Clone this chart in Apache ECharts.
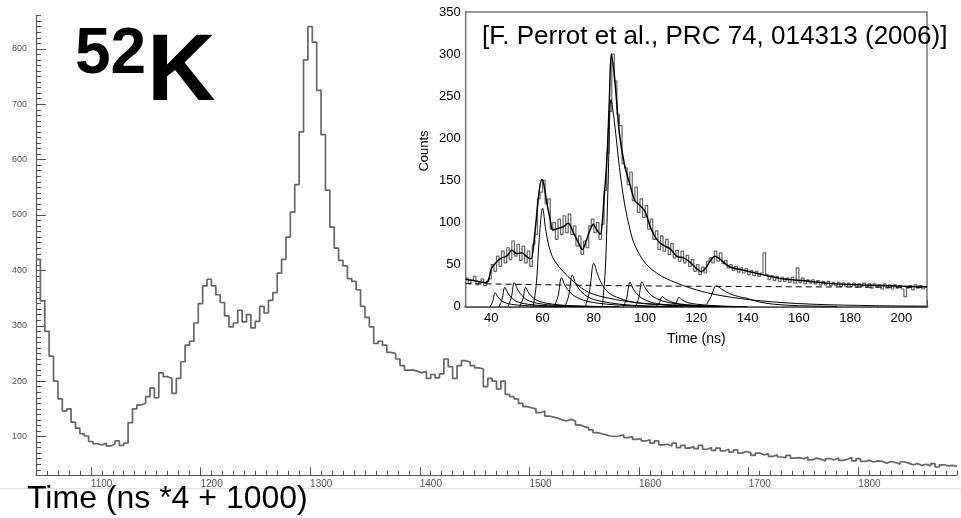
<!DOCTYPE html>
<html><head><meta charset="utf-8">
<script src="https://cdn.jsdelivr.net/npm/echarts@6/dist/echarts.min.js"></script>
<style>html,body{margin:0;padding:0;background:#fff}#c{width:961px;height:518px}</style>
</head><body><div id="c"></div>
<script>
// ---------- main histogram (52K) ----------
const mainBinStart = 1050;
const mainBinWidth = 4;
const mainCounts = [
420,345,290,245,200,168,146,150,126,115,
105,101,91,87,85,88,83,86,92,84,
88,125,150,157,160,172,188,170,215,208,
205,178,205,235,265,272,305,340,372,384,
372,356,342,318,298,305,328,307,320,296,
308,335,323,346,360,395,420,460,505,555,
650,780,840,812,725,645,545,478,440,418,
408,385,380,365,335,315,298,268,272,265,
252,250,240,228,220,220,218,215,218,205,
212,206,213,240,226,205,228,237,234,228,
224,222,190,205,200,186,200,176,172,168,
160,154,152,150,143,146,137,135,133,130,
128,131,128,121,118,116,112,107,105,103,
101,100,101,103,98,100,95,96,92,94,
88,92,85,86,83,88,80,84,79,82,
78,84,77,80,75,79,74,77,72,76,
70,73,71,66,70,67,69,64,67,63,
62,66,61,62,60,63,58,61,59,56,
60,58,61,57,59,62,56,60,55,57,
54,56,55,52,55,53,50,54,52,49,
51,48,50,47,51,45,49,47,48,46
];
const mainXTickLabels = [1100,1200,1300,1400,1500,1600,1700,1800];
const mainYTickLabels = [100,200,300,400,500,600,700,800];

// ---------- inset (Perrot et al.) ----------
const insetBinStart = 30;
const insetBinWidth = 1;
const insetCounts = [
34,27,31,36,26,30,33,25,30,33,
50,42,60,48,66,52,70,56,78,60,
74,55,72,52,66,48,74,86,128,136,
150,122,128,92,100,80,104,86,108,88,
110,86,96,72,84,62,78,70,96,104,
88,100,80,98,138,182,232,300,268,228,
215,170,165,145,160,126,142,112,128,106,
120,92,104,80,90,68,84,66,80,62,
75,58,67,54,66,52,61,48,56,42,
50,38,47,40,54,58,52,66,54,64,
51,55,46,50,43,48,41,46,40,45,
38,43,37,42,36,40,64,38,32,37,
31,36,30,35,30,34,29,35,28,46,
29,34,27,32,28,32,27,31,26,30,
26,30,25,29,25,29,24,28,24,28,
24,28,23,27,24,28,23,27,22,27,
23,26,21,27,22,26,21,26,22,25,
21,12,22,25,20,26,22,25,21,24
];
const fitTotal = [[30,32.5],[34,30.5],[38,28.5],[39,33],[40,45],[42,53],[44,58],[46,60],[48,67],[50,63],[52,64],[54,59],[55.5,57],[57,88],[58,119],[59,144],[59.7,151],[60.5,145],[61.5,126],[63,103],[64,91],[66,93],[68,95],[70,99],[72,88],[74,76],[75.5,68],[77,78],[78.5,91],[79.8,98],[81,92],[82.5,86],[84,130],[85,170],[86,240],[86.8,300],[88,275],[89,240],[90,205],[92,168],[94,146],[96,126],[98,120],[100,113],[102,95],[104.5,80],[107,73],[109.7,69],[112.3,60],[115,58],[117.5,53],[120,45.5],[122,41.6],[124,47.5],[126,57],[127.3,60],[129,57],[133,47.5],[138,43.5],[143.5,39.6],[152.6,33.6],[161.7,31],[172,27.7],[185,25.7],[198,24.5],[210,23.7]];
const peak41 = [[39.5,0],[40.5,6],[41.5,16.6],[42.5,12],[44,7],[46,4],[50,2],[60,0.5],[80,0]];
const peak45 = [[43,0],[44.2,9],[45.3,23],[46.5,16],[48,10],[50,6],[54,3],[62,1],[80,0]];
const peak49 = [[46.5,0],[47.8,11],[49,28.5],[50.3,20],[52,13],[54,8],[58,4],[66,1.5],[85,0]];
const peak53 = [[51,0],[52.3,9],[53.4,23],[54.7,16],[56.5,10],[59,6],[64,3],[72,1],[90,0]];
const peak60 = [[56.3,0],[57.5,25],[58.7,80],[60,117],[61.3,90],[63,66],[65,53],[68,42],[72,30],[78,17],[86,10],[96,5],[110,2],[130,0]];
const peak67 = [[64.5,0],[66,12],[67.4,34.4],[68.8,25],[71,16],[74,10],[78,6],[85,3],[95,1],[110,0]];
const peak72 = [[68.7,0],[70.2,13],[71.6,37.6],[73,27],[75,18],[78,11],[82,7],[90,3],[100,1],[115,0]];
const peak80 = [[76.7,0],[78.3,18],[80,51.5],[81.5,38],[83.5,25],[86,16],[90,10],[96,5],[105,2.5],[120,0.5]];
const peak87 = [[83.3,0],[84.5,45],[85.6,150],[86.7,246],[88,220],[90,165],[92,122],[94,93],[96,73],[100,52],[105,39],[110,31],[120,20],[130,13],[145,7],[165,3],[190,1.2],[210,0.6]];
const peak94 = [[91.5,0],[92.8,10],[94.1,29],[95.4,21],[97.5,13],[100,8],[104,4],[112,1.5],[125,0]];
const peak99 = [[96.2,0],[97.5,10],[98.8,29.7],[100.1,22],[102.2,14],[105,9],[109,5],[116,2],[130,0.5]];
const peak107 = [[104.2,0],[105.5,4],[106.7,12],[108,9],[110,6],[113,3.5],[120,1.5],[135,0]];
const peak113 = [[110.7,0],[112,4],[113.2,11],[114.5,8],[116.5,5],[120,3],[128,1],[140,0]];
const peak128 = [[123.5,0],[125.7,12],[127.8,25],[130,20.5],[133,15.5],[136.5,12],[139.6,10],[144,6],[150,3],[160,1.2],[175,0.3]];
const backgroundFit = [[30,27.5],[90,25],[150,23.8],[210,23]];
const insetXTickLabels = [40,60,80,100,120,140,160,180,200];
const insetYTickLabels = [0,50,100,150,200,250,300,350];

// ---------- helpers ----------
function histEdges(start, w, counts) {
  const d = counts.map((c, i) => [start + i * w, c]);
  d.push([start + counts.length * w, counts[counts.length - 1]]);
  return d;
}
function range(a, b, s) { const r = []; for (let v = a; v <= b + 1e-9; v += s) r.push(v); return r; }
const plain = v => String(v);

const components = [peak41, peak45, peak49, peak53, peak60, peak67, peak72, peak80, peak87, peak94, peak99, peak107, peak113, peak128];

const chart = echarts.init(document.getElementById('c'), null, {renderer: 'canvas'});
const font = 'Liberation Sans, Arial, sans-serif';

const series = [
  {type: 'line', xAxisIndex: 0, yAxisIndex: 0, step: 'end', symbol: 'none',
   lineStyle: {color: '#666', width: 1.7}, data: histEdges(mainBinStart, mainBinWidth, mainCounts), z: 3},
  {type: 'line', xAxisIndex: 2, yAxisIndex: 2, step: 'end', symbol: 'none',
   lineStyle: {color: '#666', width: 1.2}, data: histEdges(insetBinStart, insetBinWidth, insetCounts), z: 3}
];
components.forEach(c => series.push({type: 'line', xAxisIndex: 2, yAxisIndex: 2, smooth: 0.35, symbol: 'none',
  lineStyle: {color: '#000', width: 1}, data: c, z: 4}));
series.push({type: 'line', xAxisIndex: 2, yAxisIndex: 2, smooth: 0.3, symbol: 'none',
  lineStyle: {color: '#000', width: 1.5}, data: fitTotal, z: 5});
series.push({type: 'line', xAxisIndex: 2, yAxisIndex: 2, smooth: true, symbol: 'none',
  lineStyle: {color: '#000', width: 1, type: [6, 4]}, data: backgroundFit, z: 4});

const option = {
  animation: false,
  backgroundColor: '#fff',
  grid: [
    {left: 36, right: 4, top: 15.6, bottom: 42.7, containLabel: false},
    {left: 465.7, right: 34, top: 12, bottom: 211.3, containLabel: false, show: true,
     backgroundColor: '#fff', borderColor: '#777', borderWidth: 1.5, z: 1}
  ],
  xAxis: [
    {type: 'value', gridIndex: 0, min: 1050, max: 1890, position: 'bottom',
     axisLine: {show: true, lineStyle: {color: '#555', width: 1.2}},
     axisTick: {show: true, inside: true, length: 8, customValues: mainXTickLabels, lineStyle: {color: '#555'}},
     axisLabel: {customValues: mainXTickLabels, formatter: plain, align: 'left', color: '#555', fontSize: 10, margin: 4, fontFamily: font},
     splitLine: {show: false}},
    {type: 'value', gridIndex: 0, min: 1050, max: 1890, position: 'bottom',
     axisLine: {show: false},
     axisTick: {show: true, inside: true, length: 4.5, customValues: range(1050, 1890, 10), lineStyle: {color: '#555'}},
     axisLabel: {show: false}, splitLine: {show: false}},
    {type: 'value', gridIndex: 1, min: 30, max: 210, interval: 10, position: 'bottom',
     axisLine: {show: true, onZero: false, lineStyle: {color: '#000', width: 2.5}},
     axisTick: {show: true, inside: true, length: 7, lineStyle: {color: '#000', width: 1}},
     axisLabel: {customValues: insetXTickLabels, formatter: plain, color: '#000', fontSize: 13, margin: 5, fontFamily: font},
     splitLine: {show: false},
     name: 'Time (ns)', nameLocation: 'middle', nameGap: 25,
     nameTextStyle: {color: '#000', fontSize: 14, fontFamily: font}}
  ],
  yAxis: [
    {type: 'value', gridIndex: 0, min: 30, max: 860, position: 'left',
     axisLine: {show: true, lineStyle: {color: '#555', width: 1.2}},
     axisTick: {show: true, inside: true, length: 10, customValues: mainYTickLabels, lineStyle: {color: '#555'}},
     axisLabel: {customValues: mainYTickLabels, formatter: plain, color: '#555', fontSize: 9, margin: 9, fontFamily: font},
     splitLine: {show: false}},
    {type: 'value', gridIndex: 0, min: 30, max: 860, position: 'left',
     axisLine: {show: false},
     axisTick: {show: true, inside: true, length: 5, customValues: range(30, 860, 10), lineStyle: {color: '#555'}},
     axisLabel: {show: false}, splitLine: {show: false}},
    {type: 'value', gridIndex: 1, min: 0, max: 350, position: 'left',
     axisLine: {show: true, onZero: false, lineStyle: {color: '#000', width: 1.5}},
     axisTick: {show: true, inside: true, length: 9, customValues: insetYTickLabels, lineStyle: {color: '#000'}},
     axisLabel: {customValues: insetYTickLabels, formatter: plain, color: '#000', fontSize: 13, margin: 5, fontFamily: font},
     splitLine: {show: false}},
    {type: 'value', gridIndex: 1, min: 0, max: 350, position: 'left',
     axisLine: {show: false},
     axisTick: {show: true, inside: true, length: 5, customValues: range(25, 325, 50), lineStyle: {color: '#000'}},
     axisLabel: {show: false}, splitLine: {show: false}}
  ],
  graphic: [
    {type: 'line', shape: {x1: 0, y1: 488.5, x2: 961, y2: 488.5}, style: {stroke: '#e2e2e2', lineWidth: 1}, z: 0},
    {type: 'text', left: 75, top: 23, style: {text: '52', font: 'bold 64px ' + font, fill: '#000'}, z: 10},
    {type: 'text', left: 147, top: 26, style: {text: 'K', font: 'bold 95px ' + font, fill: '#000'}, z: 10},
    {type: 'text', left: 27, top: 483, style: {text: 'Time (ns *4 + 1000)', font: '32px ' + font, fill: '#000'}, z: 10},
    {type: 'text', left: 482, top: 24, style: {text: '[F. Perrot et al., PRC 74, 014313 (2006)]', font: '26px ' + font, fill: '#000'}, z: 100, zlevel: 1},
    {type: 'text', x: 424, y: 151, rotation: Math.PI / 2, style: {text: 'Counts', font: '13px ' + font, fill: '#000', align: 'center', verticalAlign: 'middle'}, z: 10}
  ],
  series: series
};
chart.setOption(option);
</script></body></html>
